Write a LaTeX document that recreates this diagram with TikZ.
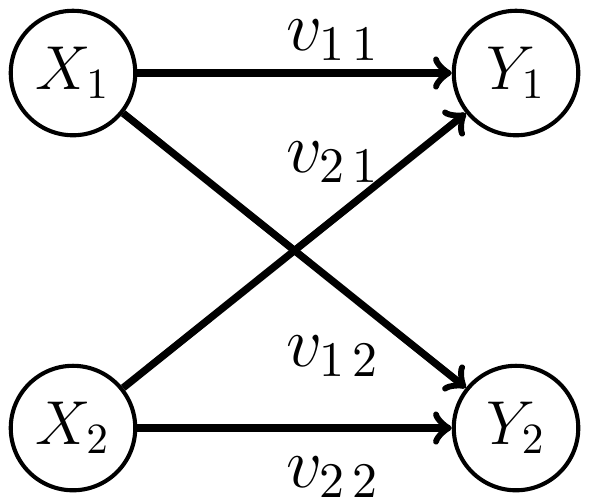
\documentclass[tikz,border=0pt]{standalone}
\usepackage{fix-cm}
\begin{document}
\begin{tikzpicture}[x=0.232pt,y=-0.232pt,
  vnode/.style={circle,draw,line width=0.95pt,minimum size=124.5*0.232pt,inner sep=0pt,font=\Large},
  edge/.style={line width=1.7pt,->},
  wlabel/.style={anchor=base,font=\fontsize{16.5}{18}\selectfont,inner sep=0pt}]
\useasboundingbox (0,0) rectangle (589,501);
\node[vnode] (x1) at (73,73) {$X_1$};
\node[vnode] (y1) at (516,73) {$Y_1$};
\node[vnode] (x2) at (73,428) {$X_2$};
\node[vnode] (y2) at (516,428) {$Y_2$};
\draw[edge] (x1) -- (y1);
\draw[edge] (x1) -- (y2);
\draw[edge] (x2) -- (y1);
\draw[edge] (x2) -- (y2);
\node[wlabel] (l11) at (333,50) {$v_{1\,1}$};
\node[wlabel] (l21) at (333,172) {$v_{2\,1}$};
\node[wlabel] (l12) at (333,366) {$v_{1\,2}$};
\node[wlabel] (l22) at (333,487) {$v_{2\,2}$};
\end{tikzpicture}
\end{document}
